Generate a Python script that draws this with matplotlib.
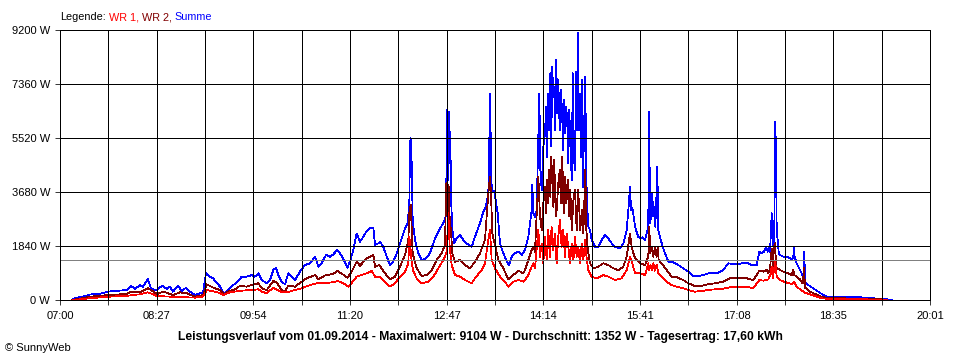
import matplotlib
matplotlib.use("Agg")
import matplotlib.pyplot as plt
import numpy as np

plt.rcParams['font.family'] = ['Liberation Sans', 'DejaVu Sans']

# ---------------- data (time = minutes after 07:00, power in W) ----------------
x_tick_labels = ["07:00", "08:27", "09:54", "11:20", "12:47", "14:14", "15:41", "17:08", "18:35", "20:01"]
y_tick_values = [0, 1840, 3680, 5520, 7360, 9200]
average_w = 1352

title_text = ("Leistungsverlauf vom 01.09.2014 - Maximalwert: 9104 W - "
              "Durchschnitt: 1352 W - Tagesertrag: 17,60 kWh")

sum_t = [10.5,13.5,18.0,22.4,26.9,31.4,35.9,43.1,49.4,55.7,
         60.1,63.7,67.3,71.8,74.5,79.0,81.7,87.1,91.6,96.1,
         98.7,101.4,105.9,109.5,113.1,116.7,121.2,125.7,128.4,131.1,
         134.7,137.3,140.9,143.6,147.2,151.1,155.6,160.1,163.1,167.6,
         172.1,175.1,178.0,181.1,185.6,188.5,191.5,193.9,196.0,199.0,
         202.0,204.9,208.0,211.0,215.4,219.9,224.4,228.9,231.9,234.9,
         238.8,242.4,245.3,248.9,252.0,254.9,257.9,260.3,263.3,266.3,
         269.3,272.3,275.3,278.9,281.3,282.8,285.7,287.3,290.2,293.3,
         296.2,299.2,302.3,305.2,309.7,312.1,313.6,314.2,314.8,315.4,
         316.0,316.6,318.7,321.6,324.7,327.7,332.1,336.6,341.1,344.1,
         346.2,346.8,347.7,348.3,348.9,349.5,350.4,351.0,352.2,354.0,
         356.1,359.1,362.1,365.1,369.6,372.5,377.0,380.0,382.2,384.5,
         385.4,386.3,386.9,388.1,389.9,391.1,392.9,395.0,398.0,401.0,
         403.1,405.5,408.5,411.4,414.5,417.4,420.4,423.4,424.0,424.9,
         426.4,427.9,429.4,430.3,431.2,432.4,433.9,435.4,436.3,437.2,
         438.3,439.2,440.1,441.0,441.9,442.8,443.7,444.6,445.5,446.4,
         447.3,448.6,449.7,450.6,451.8,452.7,453.6,454.5,455.4,456.3,
         457.2,458.1,459.4,460.3,461.2,462.3,463.2,464.1,465.0,465.9,
         466.8,467.7,468.6,469.5,470.4,471.6,472.2,473.1,474.3,475.8,
         477.3,480.3,483.2,486.3,489.2,492.2,495.3,498.2,502.7,505.7,
         508.7,510.2,511.7,512.6,513.8,515.0,516.2,519.1,520.7,523.1,
         525.2,526.7,528.1,528.7,529.4,529.9,530.8,531.7,532.6,533.5,
         534.4,535.3,536.2,537.1,538.6,541.0,543.1,546.1,550.6,555.1,
         559.5,564.0,568.5,573.0,577.5,582.0,586.5,591.0,595.4,599.9,
         604.4,608.9,612.0,616.4,620.9,625.4,627.8,629.9,632.0,633.8,
         635.3,636.2,637.4,638.9,639.8,640.3,641.2,642.1,642.7,643.4,
         644.3,645.2,646.4,649.3,652.4,655.3,656.8,658.3,658.9,659.5,
         661.3,664.3,665.8,667.3,668.2,668.8,671.8,676.2,680.7,685.2,
         689.7,694.2,701.7,710.7,719.7,728.7,737.6,746.6]

sum_w = [0,70,100,135,185,205,215,285,305,325,
         340,485,375,510,455,715,375,340,485,375,
         455,285,475,305,420,285,170,230,260,910,
         795,740,570,460,205,340,510,645,795,795,
         850,795,910,680,570,680,1020,1100,850,625,
         535,910,795,680,965,1190,1250,1475,1135,1250,
         1535,1475,1555,1705,1555,1365,1100,1305,1705,2270,
         1985,2155,2350,2465,2445,1875,1930,1985,1815,1475,
         1190,1305,1590,1930,2445,2615,3295,5340,5510,5110,
         4200,2725,2045,1590,1365,1395,1590,2100,2445,2615,
         2840,3975,6475,4090,6415,4655,5735,3520,2385,1930,
         2100,2215,2045,1930,1815,2155,2615,3010,3180,3635,
         5450,7040,4090,3750,3690,3405,2955,1930,1590,1305,
         1190,1475,1590,1645,1535,1705,2155,3065,3920,2955,
         2840,3065,5565,7040,4430,3750,5225,5680,6585,4880,
         7040,5790,7725,5225,7950,6925,7265,5790,8175,6360,
         7495,5790,7155,6475,5110,6815,5680,6585,6020,4655,
         6475,5340,4090,7725,4880,4430,7780,5790,9104,5790,
         7040,4880,7495,3860,5790,7610,4655,3295,2495,2385,
         2045,1815,1815,2045,2215,2100,1930,1815,1760,1930,
         2385,3065,3860,3065,3125,2840,2495,2155,2100,2135,
         2045,2270,2495,6415,4090,2615,2955,3635,2840,3180,
         2495,3405,4540,2385,2155,1815,1590,1305,1285,1190,
         1080,965,820,820,850,910,930,930,1020,1250,
         1225,1225,1250,1270,1190,1190,1645,1590,1645,1815,
         1645,1815,1645,2955,2385,1815,2270,6075,5110,2270,
         2045,1590,1535,1475,1475,1420,1365,1475,1815,1475,
         1250,1020,910,740,1645,625,510,400,285,170,
         90,110,110,90,90,60,45,0]

# WR 2 (dark red): (minutes after 07:00, W)
wr2_points = [
    (10.5,0),(15.0,25),(26.9,110),(43.1,170),(60.1,205),(63.7,285),(71.8,260),(79.0,400),
    (87.1,205),(92.7,285),(101.4,170),(107.7,260),(113.7,230),(121.2,110),(128.6,170),
    (131.7,535),(137.6,420),(143.6,340),(147.2,195),(151.1,285),(157.1,365),(161.6,485),
    (167.6,455),(172.1,510),(178.0,570),(181.1,400),(185.6,340),(191.5,645),(194.5,605),
    (199.0,340),(202.0,305),(204.9,485),(211.0,455),(217.0,625),(221.5,740),(228.9,850),
    (231.9,715),(238.8,850),(245.3,885),(248.9,990),(254.9,850),(257.9,760),(261.9,965),
    (266.3,1305),(269.3,1170),(275.3,1420),(281.3,1535),(282.8,1135),(286.6,1190),
    (291.8,910),(296.2,705),(300.7,795),(305.2,1135),(309.7,1535),(312.7,2045),(313.6,2955),
    (314.8,3235),(315.8,2385),(316.6,1590),(320.2,1080),(324.7,820),(329.2,850),(333.7,1020),
    (338.2,1365),(342.6,1590),(345.6,1875),(346.8,3975),(348.0,3920),(348.9,3860),
    (349.5,2955),(351.0,2325),(352.2,1590),(354.6,1305),(359.1,1365),(363.6,1190),
    (368.1,1080),(372.5,1305),(377.0,1590),(381.5,2045),(384.5,3635),(386.0,4200),
    (386.9,3635),(388.1,2270),(390.5,1875),(393.5,1365),(398.0,1080),(402.4,705),
    (406.9,850),(411.4,1000),(415.9,910),(417.4,1020),(420.4,1365),(423.4,1705),
    (424.9,1815),(426.4,1645),(429.4,4200),(430.9,2840),(432.4,2385),(433.9,3295),
    (435.4,3860),(436.3,2955),(437.2,4090),(438.3,3295),(439.2,4430),(440.1,3520),
    (441.0,4880),(441.9,4090),(442.8,3180),(443.7,4770),(444.6,3405),(445.5,2840),
    (447.3,3975),(448.6,4430),(449.7,3295),(450.9,4880),(452.1,2955),(453.3,4200),
    (454.5,3295),(455.7,4090),(457.0,2840),(458.1,3750),(459.4,2385),(460.9,3405),
    (462.3,3750),(463.8,2385),(465.0,3750),(465.9,3295),(467.1,2385),(468.4,3065),
    (469.8,2270),(471.6,4430),(472.5,2385),(473.8,1705),(475.8,1250),(478.8,1080),
    (483.2,1135),(487.7,1250),(492.2,1190),(496.7,1080),(501.2,1020),(505.7,1135),
    (508.7,1475),(511.7,2270),(513.2,1815),(515.6,1475),(519.1,1305),(520.7,1250),
    (525.2,1190),(528.1,1475),(529.0,2495),(529.9,1590),(531.1,1815),(532.6,1475),
    (534.1,1815),(535.6,1475),(536.5,1815),(537.4,1365),(540.1,1250),(544.6,1020),
    (549.1,795),(553.6,775),(559.5,680),(564.0,570),(570.0,475),(576.1,485),(582.0,535),
    (588.0,570),(595.4,625),(601.4,740),(607.5,740),(616.4,740),(622.4,680),(627.8,1000),
    (631.4,965),(634.4,1020),(635.9,910),(637.4,1080),(638.9,1760),(639.8,1135),
    (641.0,1815),(642.1,1930),(642.7,1135),(643.9,1080),(646.4,1020),(649.3,965),
    (653.9,910),(656.8,850),(658.3,1020),(659.2,850),(661.3,795),(664.3,700),(666.7,560),
    (668.0,1080),(668.8,420),(673.3,285),(677.8,205),(683.7,110),(689.7,60),(698.7,60),
    (719.7,45),(737.6,25),(742.4,0)]

# WR 1 (red): (minutes after 07:00, W)
wr1_points = [
    (11.7,0),(15.0,10),(26.9,60),(43.1,110),(60.1,145),(71.8,195),(79.0,260),(87.1,135),
    (101.4,110),(121.2,80),(128.4,120),(131.7,340),(139.1,285),(143.6,240),(146.6,170),
    (152.6,260),(161.6,315),(172.1,340),(178.0,365),(181.1,285),(185.6,230),(191.5,420),
    (199.0,260),(203.5,260),(211.0,340),(217.0,400),(224.4,510),(230.4,570),(236.4,570),
    (245.3,605),(249.8,645),(255.8,535),(258.8,455),(263.3,645),(266.3,795),(270.8,850),
    (275.3,910),(279.8,990),(282.8,795),(286.6,795),(291.8,625),(296.2,455),(300.7,570),
    (305.2,795),(309.7,965),(312.7,1250),(313.6,2155),(314.5,1815),(315.8,1250),(317.3,965),
    (320.2,740),(324.7,570),(330.7,625),(335.2,795),(339.7,1080),(344.1,1365),(346.8,1590),
    (347.7,2155),(348.6,2955),(349.8,1815),(351.6,1190),(354.6,850),(359.1,795),(363.6,680),
    (369.6,570),(372.5,740),(378.5,1020),(381.5,1250),(384.5,2045),(386.0,2385),(387.5,1365),
    (390.5,1080),(395.0,795),(399.5,625),(402.4,455),(406.9,625),(411.4,680),(415.9,625),
    (417.4,680),(420.4,850),(423.4,1135),(424.9,1250),(426.4,1080),(429.4,2385),(430.9,1475),
    (432.4,1930),(433.9,1250),(435.4,2155),(436.9,1365),(438.3,2385),(439.8,1475),
    (441.3,2495),(442.8,1705),(444.3,2270),(445.8,1250),(447.3,2155),(448.8,2725),
    (450.3,1815),(451.8,2385),(453.3,1475),(454.8,2270),(456.3,1815),(457.8,1250),
    (459.4,1930),(460.9,1365),(462.3,2155),(463.8,1475),(465.3,1815),(466.8,1250),
    (468.4,1930),(469.8,1365),(471.4,2045),(472.9,1365),(474.3,1020),(477.3,795),
    (481.8,740),(487.7,850),(492.2,795),(498.2,680),(504.2,740),(508.7,1020),(511.7,1475),
    (513.8,1250),(516.2,910),(520.7,910),(525.2,850),(528.1,1250),(529.0,1020),(530.2,1190),
    (531.1,1020),(532.6,1250),(534.1,1000),(535.6,1190),(537.1,910),(540.1,795),(544.6,625),
    (549.1,510),(553.6,455),(559.5,400),(564.0,340),(570.0,285),(576.1,305),(582.0,340),
    (588.0,365),(595.4,385),(601.4,435),(607.5,435),(616.4,455),(622.4,400),(627.8,680),
    (631.4,660),(635.9,705),(638.0,910),(638.9,1135),(639.8,740),(641.0,1020),(642.1,1305),
    (643.4,795),(646.4,680),(652.4,590),(656.8,545),(658.9,625),(661.3,455),(664.3,365),
    (667.3,285),(668.8,250),(673.3,195),(677.8,135),(683.7,60),(689.7,35),(704.7,25),
    (719.7,25),(737.6,10),(742.4,0)]

# ---------------- figure ----------------
W, H = 960, 360
fig = plt.figure(figsize=(W / 100, H / 100), dpi=100)
fig.patch.set_facecolor("white")
ax = fig.add_axes([60 / W, 60 / H, 870 / W, 270 / H])

span = 781.0  # 07:00 .. 20:01
grid_x = np.linspace(0, span, 19)
major_x = grid_x[::2]
minor_x = grid_x[1::2]

lw = 0.55
wr2_t, wr2_w = zip(*wr2_points)
wr1_t, wr1_w = zip(*wr1_points)
ax.plot(sum_t, sum_w, color="#0000ff", lw=lw, antialiased=False, zorder=2)
ax.plot(wr2_t, wr2_w, color="#800000", lw=lw, antialiased=False, zorder=2.1)
ax.plot(wr1_t, wr1_w, color="#ff0000", lw=lw, antialiased=False, zorder=2.2)

ax.axhline(average_w, color="#808080", lw=lw, antialiased=False, zorder=3)

ax.set_xlim(0, span)
ax.set_ylim(0, 9200)
ax.set_xticks(major_x)
ax.set_xticklabels(x_tick_labels)
ax.set_xticks(minor_x, minor=True)
ax.set_yticks(y_tick_values)
ax.set_yticklabels([f"{v} W" for v in y_tick_values])

ax.set_axisbelow(False)
ax.grid(True, which="both", color="black", lw=lw, antialiased=False)
for gl in ax.get_xgridlines() + ax.get_ygridlines():
    gl.set_zorder(2.5)

ax.tick_params(axis="x", which="both", length=3.6, width=lw, color="black",
               pad=4, labelsize=8)
ax.tick_params(axis="y", which="both", length=3.6, width=lw, color="black",
               pad=3.5, labelsize=8)
for sp in ax.spines.values():
    sp.set_linewidth(lw)
    sp.set_color("black")
    sp.set_antialiased(False)
    sp.set_zorder(4)

# title and copyright
fig.text(480 / W, 1 - 337 / H, title_text, ha="center", va="center",
         fontsize=8.7, fontweight="bold")
fig.text(5 / W, 1 - 348 / H, "\u00a9 SunnyWeb", ha="left", va="center", fontsize=8)

# legend line (coloured pieces)
fig.canvas.draw()
r = fig.canvas.get_renderer()


def text_width(s):
    t = fig.text(0, 0, s, fontsize=7.8)
    w = t.get_window_extent(renderer=r).width
    t.remove()
    return w


space_w = text_width("x x") - text_width("xx")
parts = [("Legende:", "black"), ("WR 1,", "#ff0000"), ("WR 2,", "#800000"), ("Summe", "#0000ff")]
xpix = 60
for s, c in parts:
    t = fig.text(xpix / W, 1 - 17 / H, s, color=c, fontsize=7.8, ha="left", va="center")
    xpix = t.get_window_extent(renderer=r).x1 + space_w

fig.savefig("out.png", dpi=100, facecolor="white")
